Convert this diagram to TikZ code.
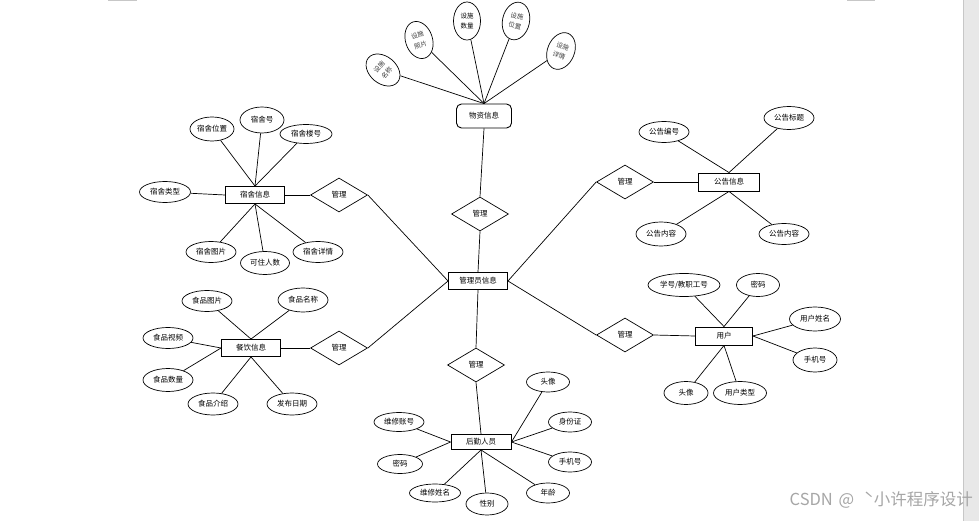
\documentclass[tikz,border=0pt]{standalone}
\usepackage{fontspec}
\setmainfont{Noto Sans CJK SC}
\usetikzlibrary{shapes.geometric}
\begin{document}
\begin{tikzpicture}[x=1pt,y=-1pt,
  every node/.style={font=\fontsize{7.5}{8.5}\selectfont},
  ent/.style={draw, line width=0.9pt, rectangle, minimum width=59pt, minimum height=17pt, inner sep=1pt},
  attr/.style={draw, line width=0.7pt, ellipse, minimum width=50pt, minimum height=22pt, inner sep=0.5pt},
  rel/.style={draw, line width=0.7pt, diamond, minimum width=57pt, minimum height=34pt, inner sep=0pt},
  con/.style={line width=0.7pt},
  rot/.style={draw, line width=0.7pt, ellipse, minimum width=27pt, minimum height=38pt, inner sep=0pt, align=center, text=black!75, font=\fontsize{6.5}{10}\selectfont}
]
\useasboundingbox (0,0) rectangle (979,521);
\fill[white] (0,0) rectangle (979,521);
\fill[black!9] (963,0) rectangle (979,521);
\draw[black!22, line width=0.8pt] (963,0) -- (963,521);
\fill[black!22] (108,0) rectangle (137,1.5);
\fill[black!22] (847,0) rectangle (875,1.5);

% entities and relationships
\node[ent] (admin) at (478,281) {管理员信息};
\node[rel] (r1) at (480,214) {管理};
\node[rel] (r2) at (476,365) {管理};
\node[rel] (r3) at (339,195) {管理};
\node[rel] (r4) at (339,348) {管理};
\node[rel] (r5) at (625,182) {管理};
\node[rel] (r6) at (625,335) {管理};

\node[ent, rounded corners=5pt, minimum width=55pt, minimum height=24pt] (wz) at (484,116) {物资信息};
\node[ent] (ss) at (255,195) {宿舍信息};
\node[ent] (cy) at (251,348) {餐饮信息};
\node[ent, minimum width=61pt, minimum height=18pt] (gg) at (729,182) {公告信息};
\node[ent, minimum width=57pt, minimum height=18pt] (yh) at (724,336) {用户};
\node[ent, minimum width=60pt, minimum height=15pt] (hq) at (481,442) {后勤人员};

% material attributes
\node[rot, rotate=50] (w1) at (383,70) {设施\\名称};
\node[rot, rotate=18] (w2) at (419,40) {设施\\照片};
\node[rot, text=black] (w3) at (467,21) {设施\\数量};
\node[rot, rotate=-12] (w4) at (516,21) {设施\\位置};
\node[rot, rotate=-22] (w5) at (561,51) {设施\\详情};

% dorm attributes
\node[attr, minimum width=44pt, minimum height=24pt] (s1) at (212,129) {宿舍位置};
\node[attr, minimum width=44pt, minimum height=26pt] (s2) at (262,120) {宿舍号};
\node[attr, minimum width=52pt, minimum height=19pt] (s3) at (306,134) {宿舍楼号};
\node[attr, minimum width=51pt, minimum height=21pt] (s4) at (165,192) {宿舍类型};
\node[attr, minimum width=50pt, minimum height=21pt] (s5) at (211,252) {宿舍图片};
\node[attr, minimum width=49pt, minimum height=23pt] (s6) at (265,263) {可住人数};
\node[attr, minimum width=50pt, minimum height=21pt] (s7) at (318,252) {宿舍详情};

% food attributes
\node[attr, minimum height=21pt] (c1) at (207,301) {食品图片};
\node[attr, minimum height=24pt] (c2) at (303,300) {食品名称};
\node[attr, minimum height=21pt] (c3) at (168,338) {食品视频};
\node[attr, minimum height=23pt] (c4) at (168,380) {食品数量};
\node[attr, minimum height=22pt] (c5) at (213,404) {食品介绍};
\node[attr, minimum height=22pt] (c6) at (292,404) {发布日期};

% notice attributes
\node[attr, minimum height=21pt] (g1) at (664,132) {公告编号};
\node[attr, minimum height=23pt] (g2) at (789,118) {公告标题};
\node[attr, minimum height=24pt] (g3) at (661,234) {公告内容};
\node[attr, minimum height=21pt] (g4) at (784,234) {公告内容};

% user attributes
\node[attr, minimum width=72pt, minimum height=23pt] (u1) at (684,285) {学号/教职工号};
\node[attr, minimum width=43pt, minimum height=23pt] (u2) at (758,285) {密码};
\node[attr, minimum width=51pt, minimum height=24pt] (u3) at (815,319) {用户姓名};
\node[attr, minimum width=44pt, minimum height=24pt] (u4) at (815,360) {手机号};
\node[attr, minimum width=44pt, minimum height=23pt] (u5) at (686,393) {头像};
\node[attr, minimum width=53pt, minimum height=23pt] (u6) at (740,393) {用户类型};

% logistics attributes
\node[attr, minimum width=43pt, minimum height=20pt] (h1) at (548,382) {头像};
\node[attr, minimum width=43pt, minimum height=20pt] (h2) at (570,422) {身份证};
\node[attr, minimum width=43pt, minimum height=20pt] (h3) at (570,462) {手机号};
\node[attr, minimum width=43pt, minimum height=20pt] (h4) at (548,493) {年龄};
\node[attr, minimum width=42pt, minimum height=22pt] (h5) at (487,504) {性别};
\node[attr, minimum width=51pt, minimum height=18pt] (h6) at (435,493) {维修姓名};
\node[attr, minimum width=45pt, minimum height=19pt] (h7) at (400,464) {密码};
\node[attr, minimum width=50pt, minimum height=19pt] (h8) at (399,422) {维修账号};

% connectors
\draw[con] (wz.south) -- (r1.north);
\draw[con] (r1.south) -- (admin.north);
\draw[con] (r2.north) -- (admin.south);
\draw[con] (r2.south) -- (hq.north);
\draw[con] (r3.east) -- (admin.west);
\draw[con] (r4.east) -- (admin.west);
\draw[con] (r5.west) -- (admin.east);
\draw[con] (r6.west) -- (admin.east);
\draw[con] (r3.west) -- (ss.east);
\draw[con] (r4.west) -- (cy.east);
\draw[con] (r5.east) -- (gg.west);
\draw[con] (r6.east) -- (yh.west);

\foreach \a in {w1,w2,w3,w4,w5} \draw[con] (wz.north) -- (\a);
\foreach \a in {s1,s2,s3} \draw[con] (ss.north) -- (\a);
\draw[con] (ss.west) -- (s4);
\foreach \a in {s5,s6,s7} \draw[con] (ss.south) -- (\a);
\foreach \a in {c1,c2} \draw[con] (cy.north) -- (\a);
\foreach \a in {c3,c4} \draw[con] (cy.west) -- (\a);
\foreach \a in {c5,c6} \draw[con] (cy.south) -- (\a);
\foreach \a in {g1,g2} \draw[con] (gg.north) -- (\a);
\foreach \a in {g3,g4} \draw[con] (gg.south) -- (\a);
\foreach \a in {u1,u2} \draw[con] (yh.north) -- (\a);
\foreach \a in {u3,u4} \draw[con] (yh.east) -- (\a);
\foreach \a in {u5,u6} \draw[con] (yh.south) -- (\a);
\foreach \a in {h1,h2,h3} \draw[con] (hq.east) -- (\a);
\foreach \a in {h4,h5,h6} \draw[con] (hq.south) -- (\a);
\foreach \a in {h7,h8} \draw[con] (hq.west) -- (\a);

% watermark
\node[anchor=east, text=black!35, inner sep=0pt, font=\fontsize{16.5}{17}\selectfont] (wm) at (973,500) {CSDN\hspace{2pt} @\hspace{6pt} ˋ小许程序设计};
\end{tikzpicture}
\end{document}
